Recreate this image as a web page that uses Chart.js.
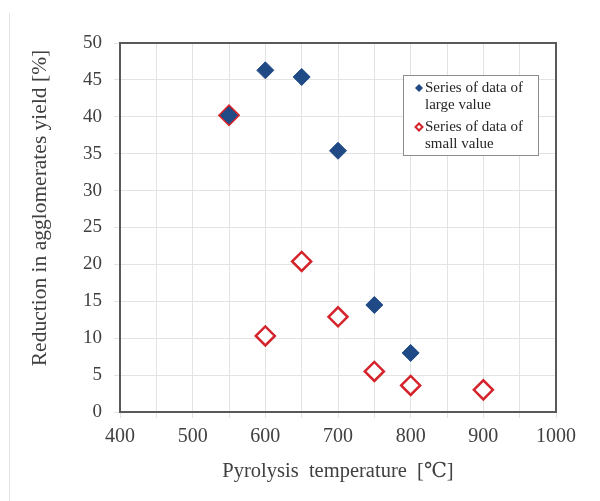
<!DOCTYPE html>
<html>
<head>
<meta charset="utf-8">
<script src="https://cdn.jsdelivr.net/npm/chart.js@4/dist/chart.umd.min.js"></script>
<style>
	html, body { margin: 0; padding: 0; background: #fff; }
	#wrap { width: 600px; height: 501px; position: relative; }
</style>
</head>
<body>
<div id="wrap"><canvas id="yield-chart" width="600" height="501"></canvas></div>
<script>
// temperatures and values
var largeTemps = [550, 600, 650, 700, 750, 800];
var largeValues = [40.2, 46.3, 45.4, 35.4, 14.5, 8.0];
var smallTemps = [550, 600, 650, 700, 750, 800, 900];
var smallValues = [40.2, 10.3, 20.4, 12.9, 5.5, 3.6, 3.0];

var seriesNames = [['Series of data of', 'large value'], ['Series of data of', 'small value']];
var xTitle = 'Pyrolysis  temperature  [\u2103]';
var yTitle = 'Reduction in agglomerates yield [%]';

var blue = '#1f4a85';
var red = '#d4232b';
var serif = '"Liberation Serif", "DejaVu Serif", serif';

function toPoints(xs, ys) {
	return xs.map(function (x, i) { return {x: x, y: ys[i]}; });
}

function diamond(ctx, x, y, r) {
	ctx.beginPath();
	ctx.moveTo(x, y - r);
	ctx.lineTo(x + r, y);
	ctx.lineTo(x, y + r);
	ctx.lineTo(x - r, y);
	ctx.closePath();
}

var framePlugin = {
	id: 'frame',
	beforeDatasetsDraw: function (chart) {
		var ctx = chart.ctx, a = chart.chartArea;
		ctx.save();
		ctx.strokeStyle = '#595959';
		ctx.lineWidth = 2;
		ctx.strokeRect(a.left, a.top, a.right - a.left, a.bottom - a.top);
		ctx.restore();
	},
	afterDraw: function (chart) {
		var ctx = chart.ctx, a = chart.chartArea;
		ctx.save();

		// faint page edge on the left
		ctx.strokeStyle = '#e4e4e4';
		ctx.lineWidth = 1;
		ctx.beginPath();
		ctx.moveTo(9.5, 13);
		ctx.lineTo(9.5, 501);
		ctx.stroke();

		// y title, sits a bit above the plot centre like the original
		ctx.fillStyle = '#404040';
		ctx.font = '21.5px ' + serif;
		ctx.textAlign = 'center';
		ctx.textBaseline = 'middle';
		ctx.translate(40, a.top + 165);
		ctx.rotate(-Math.PI / 2);
		ctx.fillText(yTitle, 0, 0);
		ctx.setTransform(1, 0, 0, 1, 0, 0);

		// legend box
		var lx = a.right - 153, ly = a.top + 32, lw = 135, lh = 80;
		ctx.fillStyle = '#fff';
		ctx.fillRect(lx, ly, lw, lh);
		ctx.strokeStyle = '#8c8c8c';
		ctx.lineWidth = 1;
		ctx.strokeRect(lx + 0.5, ly + 0.5, lw, lh);

		ctx.font = '15px ' + serif;
		ctx.textAlign = 'left';
		var rows = [ly + 13, ly + 52];
		rows.forEach(function (ry, i) {
			if (i === 0) {
				diamond(ctx, lx + 16, ry, 4);
				ctx.fillStyle = blue;
				ctx.fill();
			} else {
				diamond(ctx, lx + 16, ry, 3.5);
				ctx.fillStyle = '#fff';
				ctx.fill();
				ctx.strokeStyle = red;
				ctx.lineWidth = 2;
				ctx.stroke();
			}
			ctx.fillStyle = '#262626';
			ctx.fillText(seriesNames[i][0], lx + 22, ry);
			ctx.fillText(seriesNames[i][1], lx + 22, ry + 17);
		});
		ctx.restore();
	}
};

new Chart('yield-chart', {
	type: 'scatter',
	data: {
		datasets: [
			{
				label: seriesNames[0].join(' '),
				data: toPoints(largeTemps, largeValues),
				pointStyle: 'rectRot',
				pointRadius: 8.5,
				pointHoverRadius: 8.5,
				backgroundColor: blue,
				borderColor: blue,
				borderWidth: 1
			},
			{
				label: seriesNames[1].join(' '),
				data: toPoints(smallTemps, smallValues),
				pointStyle: 'rectRot',
				pointRadius: 9.5,
				pointHoverRadius: 9.5,
				backgroundColor: '#fff',
				borderColor: red,
				borderWidth: 2.5
			}
		]
	},
	options: {
		responsive: false,
		animation: false,
		layout: { padding: { left: 0, right: 44, top: 43, bottom: 0 } },
		plugins: {
			legend: { display: false },
			tooltip: { enabled: false }
		},
		scales: {
			x: {
				type: 'linear',
				min: 400,
				max: 1000,
				afterFit: function (scale) { scale.height = 89; },
				ticks: {
					stepSize: 50,
					autoSkip: false,
					maxRotation: 0,
					padding: 7,
					color: '#404040',
					font: { family: serif, size: 20 },
					callback: function (v) { return v % 100 === 0 ? v : ''; }
				},
				grid: { color: '#e3e3e3', tickLength: 6 },
				border: { display: false },
				title: {
					display: true,
					text: xTitle,
					color: '#404040',
					font: { family: serif, size: 20.5 },
					padding: { top: 4, bottom: 17 }
				}
			},
			y: {
				min: 0,
				max: 50,
				afterFit: function (scale) { scale.width = 120; },
				ticks: {
					stepSize: 5,
					padding: 12,
					color: '#404040',
					font: { family: serif, size: 19 }
				},
				grid: { color: '#e3e3e3', tickLength: 6 },
				border: { display: false }
			}
		}
	},
	plugins: [framePlugin]
});
</script>
</body>
</html>
